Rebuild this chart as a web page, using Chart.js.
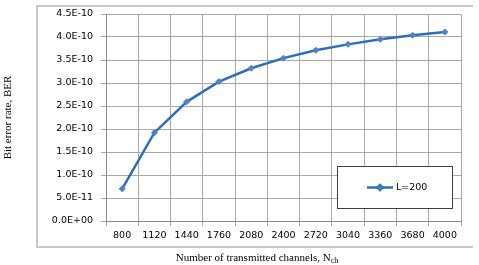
<!DOCTYPE html>
<html>
<head>
<meta charset="utf-8">
<script src="https://cdn.jsdelivr.net/npm/chart.js@4"></script>
<style>
  body { margin: 0; background: #fff; }
</style>
</head>
<body>
<canvas id="berChart" width="479" height="265"></canvas>
<script>
// Number of transmitted channels (x categories)
const channels = ['800', '1120', '1440', '1760', '2080', '2400', '2720', '3040', '3360', '3680', '4000'];
// Bit error rate for L=200
const berValues = [7.0e-11, 1.92e-10, 2.59e-10, 3.03e-10, 3.32e-10, 3.54e-10, 3.71e-10, 3.84e-10, 3.95e-10, 4.04e-10, 4.11e-10];
const seriesLabel = 'L=200';

const tickFont = { family: 'DejaVu Sans', size: 9.5 };
const lineColor = '#2a6ebd';

// Excel-style scientific labels: 4.5E-10, 0.0E+00
function fmtE(v) {
    const parts = Number(v).toExponential(1).split('e');
    const sign = parts[1][0] === '-' ? '-' : '+';
    let digits = parts[1].replace(/[+-]/, '');
    if (digits.length < 2) digits = '0' + digits;
    return parts[0] + 'E' + sign + digits;
}

// outer frame, x title with subscript, legend box inside plot
const decorations = {
    id: 'decorations',
    beforeDraw(chart) {
        const c = chart.ctx;
        c.save();
        c.strokeStyle = '#c8c8c8';
        c.lineWidth = 2;
        c.beginPath();
        c.moveTo(473, 6);
        c.lineTo(37, 6);
        c.lineTo(37, 247);
        c.lineTo(473, 247);
        c.stroke();
        c.restore();
    },
    afterDraw(chart) {
        const c = chart.ctx;
        c.save();
        // x axis title
        c.fillStyle = '#000';
        c.textBaseline = 'alphabetic';
        c.font = '11px "Liberation Serif"';
        const main = 'Number of transmitted channels, N';
        const w = c.measureText(main).width;
        c.font = '8px "Liberation Serif"';
        const sw = c.measureText('ch').width;
        let x = 257 - (w + sw) / 2;
        c.font = '11px "Liberation Serif"';
        c.fillText(main, x, 261);
        c.font = '8px "Liberation Serif"';
        c.fillText('ch', x + w, 263);

        // legend
        const ds = chart.data.datasets[0];
        c.fillStyle = '#fff';
        c.fillRect(337.5, 166.5, 115, 42);
        c.strokeStyle = '#404040';
        c.lineWidth = 1;
        c.strokeRect(337.5, 166.5, 115, 42);
        c.strokeStyle = ds.borderColor;
        c.lineWidth = 2.5;
        c.beginPath();
        c.moveTo(367, 187.5);
        c.lineTo(393, 187.5);
        c.stroke();
        Chart.helpers.drawPoint(c, { pointStyle: 'rectRot', radius: 2.5, borderWidth: 1 }, 380, 187.5);
        c.fillStyle = ds.pointBackgroundColor;
        c.beginPath();
        c.moveTo(380, 185);
        c.lineTo(382.5, 187.5);
        c.lineTo(380, 190);
        c.lineTo(377.5, 187.5);
        c.closePath();
        c.fill();
        c.fillStyle = '#000';
        c.font = '9.5px "DejaVu Sans"';
        c.textBaseline = 'middle';
        c.fillText(ds.label, 396, 188);
        c.restore();
    }
};

new Chart(document.getElementById('berChart'), {
    type: 'line',
    data: {
        labels: channels,
        datasets: [{
            label: seriesLabel,
            data: berValues,
            borderColor: lineColor,
            borderWidth: 2.5,
            tension: 0,
            pointStyle: 'rectRot',
            pointRadius: 3,
            pointBackgroundColor: '#4f81c8',
            pointBorderColor: '#4f81c8',
            pointBorderWidth: 1
        }]
    },
    options: {
        responsive: false,
        animation: false,
        layout: { padding: { left: 0, right: 18, top: 14, bottom: 0 } },
        plugins: {
            legend: { display: false },
            tooltip: { enabled: false }
        },
        scales: {
            x: {
                offset: true,
                grid: { offset: true, color: '#a8a8a8', tickLength: 5 },
                border: { color: '#8a8a8a' },
                ticks: { font: tickFont, color: '#000', padding: 4, maxRotation: 0, autoSkip: false },
                afterFit(scale) { scale.height = 44; }
            },
            y: {
                min: 0,
                max: 4.5e-10,
                grid: { color: '#a8a8a8', tickLength: 5 },
                border: { color: '#8a8a8a' },
                ticks: { stepSize: 5e-11, font: tickFont, color: '#000', padding: 8, callback: v => fmtE(v) },
                title: {
                    display: true,
                    text: 'Bit error rate, BER',
                    font: { family: 'Liberation Serif', size: 11 },
                    color: '#000',
                    padding: { top: 1.5, bottom: 0 }
                },
                afterFit(scale) { scale.width = 106; }
            }
        }
    },
    plugins: [decorations]
});
</script>
</body>
</html>
